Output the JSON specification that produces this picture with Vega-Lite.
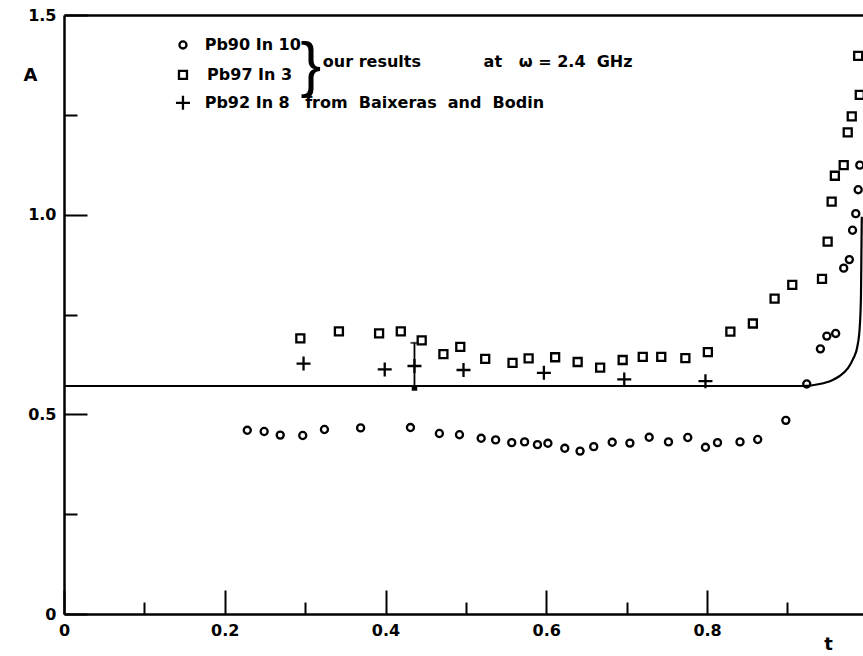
{
  "$schema": "https://vega.github.io/schema/vega-lite/v6.json",
  "width": 799,
  "height": 599,
  "autosize": {"type": "none"},
  "padding": {"left": 64, "top": 15, "right": 0, "bottom": 42},
  "background": "white",
  "config": {"view": {"stroke": null}, "font": "DejaVu Sans"},
  "datasets": {
    "bcs": [
      {"t": 0, "A": 0.571}, {"t": 0.92, "A": 0.571}, {"t": 0.94, "A": 0.576}, {"t": 0.955, "A": 0.585},
      {"t": 0.965, "A": 0.596}, {"t": 0.975, "A": 0.615}, {"t": 0.982, "A": 0.64}, {"t": 0.987, "A": 0.67},
      {"t": 0.99, "A": 0.72}, {"t": 0.9915, "A": 0.8}, {"t": 0.992, "A": 0.9}, {"t": 0.9925, "A": 0.995}
    ],
    "pb90": [
      {"t": 0.228, "A": 0.46}, {"t": 0.249, "A": 0.457}, {"t": 0.269, "A": 0.448}, {"t": 0.297, "A": 0.447},
      {"t": 0.324, "A": 0.462}, {"t": 0.369, "A": 0.466}, {"t": 0.431, "A": 0.467}, {"t": 0.467, "A": 0.452},
      {"t": 0.492, "A": 0.449}, {"t": 0.519, "A": 0.44}, {"t": 0.537, "A": 0.436}, {"t": 0.557, "A": 0.429},
      {"t": 0.573, "A": 0.431}, {"t": 0.589, "A": 0.424}, {"t": 0.602, "A": 0.4275}, {"t": 0.623, "A": 0.415},
      {"t": 0.642, "A": 0.408}, {"t": 0.659, "A": 0.419}, {"t": 0.682, "A": 0.43}, {"t": 0.704, "A": 0.428},
      {"t": 0.728, "A": 0.4425}, {"t": 0.752, "A": 0.431}, {"t": 0.776, "A": 0.442}, {"t": 0.798, "A": 0.4175},
      {"t": 0.813, "A": 0.429}, {"t": 0.841, "A": 0.431}, {"t": 0.863, "A": 0.437}, {"t": 0.898, "A": 0.485},
      {"t": 0.924, "A": 0.576}, {"t": 0.941, "A": 0.664}, {"t": 0.949, "A": 0.696}, {"t": 0.96, "A": 0.7025},
      {"t": 0.97, "A": 0.866}, {"t": 0.977, "A": 0.8875}, {"t": 0.981, "A": 0.961}, {"t": 0.985, "A": 1.0025},
      {"t": 0.988, "A": 1.0625}, {"t": 0.99, "A": 1.124}
    ],
    "pb97": [
      {"t": 0.294, "A": 0.69}, {"t": 0.342, "A": 0.7075}, {"t": 0.392, "A": 0.7025}, {"t": 0.419, "A": 0.7075},
      {"t": 0.445, "A": 0.685}, {"t": 0.472, "A": 0.651}, {"t": 0.493, "A": 0.669}, {"t": 0.524, "A": 0.639},
      {"t": 0.558, "A": 0.629}, {"t": 0.578, "A": 0.64}, {"t": 0.611, "A": 0.643}, {"t": 0.639, "A": 0.631},
      {"t": 0.667, "A": 0.617}, {"t": 0.695, "A": 0.636}, {"t": 0.72, "A": 0.644}, {"t": 0.743, "A": 0.644},
      {"t": 0.773, "A": 0.641}, {"t": 0.801, "A": 0.656}, {"t": 0.829, "A": 0.707}, {"t": 0.857, "A": 0.7275},
      {"t": 0.884, "A": 0.79}, {"t": 0.906, "A": 0.824}, {"t": 0.943, "A": 0.839}, {"t": 0.95, "A": 0.9325},
      {"t": 0.955, "A": 1.0325}, {"t": 0.959, "A": 1.0975}, {"t": 0.97, "A": 1.124}, {"t": 0.975, "A": 1.206},
      {"t": 0.98, "A": 1.246}, {"t": 0.99, "A": 1.3}, {"t": 0.988, "A": 1.3975}
    ],
    "pb92": [
      {"t": 0.298, "A": 0.627}, {"t": 0.399, "A": 0.6125}, {"t": 0.436, "A": 0.621}, {"t": 0.497, "A": 0.611},
      {"t": 0.597, "A": 0.604}, {"t": 0.697, "A": 0.5875}, {"t": 0.798, "A": 0.583}
    ],
    "errbar": [{"t": 0.436, "lo": 0.566, "hi": 0.679}],
    "legsym": [
      {"t": 0.148, "A": 1.425, "series": "Pb90 In 10"},
      {"t": 0.148, "A": 1.35, "series": "Pb97 In 3"},
      {"t": 0.148, "A": 1.28, "series": "Pb92 In 8"}
    ],
    "legtext": [
      {"t": 0.175, "A": 1.425, "label": "Pb90 In 10"},
      {"t": 0.178, "A": 1.35, "label": "Pb97 In 3"},
      {"t": 0.175, "A": 1.28, "label": "Pb92 In 8"},
      {"t": 0.3, "A": 1.28, "label": "from\u00a0\u00a0Baixeras\u00a0\u00a0and\u00a0\u00a0Bodin"},
      {"t": 0.322, "A": 1.383, "label": "our results"},
      {"t": 0.522, "A": 1.383, "label": "at\u00a0\u00a0\u00a0ω\u00a0=\u00a02.4\u00a0\u00a0GHz"}
    ],
    "brace": [{"t": 0.307, "A": 1.372, "label": "}"}]
  },
  "layer": [
    {
      "data": {"name": "bcs"},
      "mark": {"type": "line", "color": "black", "strokeWidth": 2.2, "interpolate": "monotone", "clip": true},
      "encoding": {
        "x": {
          "field": "t", "type": "quantitative",
          "scale": {"domain": [0, 0.994], "nice": false, "zero": false},
          "axis": {
            "values": [0, 0.1, 0.2, 0.3, 0.4, 0.5, 0.6, 0.7, 0.8, 0.9],
            "labelExpr": "round(datum.value*10) % 2 == 0 ? (datum.value == 0 ? '0' : format(datum.value, '.1f')) : ''",
            "tickSize": {"condition": {"test": "round(datum.value*10) % 2 == 0", "value": -24}, "value": -12},
            "tickWidth": 2, "tickColor": "black", "domainColor": "black", "domainWidth": 2.5,
            "labelFont": "DejaVu Sans", "labelFontSize": 16, "labelFontWeight": "bold", "labelColor": "black", "labelPadding": 32,
            "labelFlush": false, "labelOverlap": false, "grid": false,
            "title": "t", "titleX": 764, "titleY": 30, "titleBaseline": "middle", "titleFontSize": 18, "titleFontWeight": "bold",
            "titleColor": "black", "titleFont": "DejaVu Sans"
          }
        },
        "y": {
          "field": "A", "type": "quantitative",
          "scale": {"domain": [0, 1.5], "nice": false, "zero": false},
          "axis": {
            "values": [0, 0.25, 0.5, 0.75, 1, 1.25, 1.5],
            "labelExpr": "datum.value == 0 ? '0' : (datum.value*2 == round(datum.value*2) ? format(datum.value, '.1f') : '')",
            "tickSize": {"condition": {"test": "datum.value*2 == round(datum.value*2)", "value": -23}, "value": -13},
            "tickWidth": 2, "tickColor": "black", "domainColor": "black", "domainWidth": 2.5,
            "labelFont": "DejaVu Sans", "labelFontSize": 16, "labelFontWeight": "bold", "labelColor": "black", "labelPadding": 31,
            "labelFlush": false, "labelOverlap": false, "grid": false,
            "title": "A", "titleAngle": 0, "titleX": -34, "titleY": 60, "titleAlign": "center", "titleBaseline": "middle",
            "titleFontSize": 18, "titleFontWeight": "bold", "titleColor": "black", "titleFont": "DejaVu Sans"
          }
        }
      }
    },
    {
      "data": {"name": "bcs"},
      "mark": {"type": "point", "opacity": 0},
      "encoding": {
        "x": {"field": "t", "type": "quantitative",
          "axis": {"orient": "top", "domain": true, "domainColor": "black", "domainWidth": 2.5, "ticks": false, "labels": false, "grid": false, "title": null}},
        "y": {"field": "A", "type": "quantitative", "axis": null}
      }
    },
    {
      "data": {"name": "pb90"},
      "mark": {"type": "point", "shape": "circle", "filled": false, "color": "black", "strokeWidth": 2.3, "size": 50, "opacity": 1},
      "encoding": {
        "x": {"field": "t", "type": "quantitative", "axis": null},
        "y": {"field": "A", "type": "quantitative", "axis": null}
      }
    },
    {
      "data": {"name": "pb97"},
      "mark": {"type": "point", "shape": "square", "filled": false, "color": "black", "strokeWidth": 2.3, "size": 64, "opacity": 1},
      "encoding": {
        "x": {"field": "t", "type": "quantitative", "axis": null},
        "y": {"field": "A", "type": "quantitative", "axis": null}
      }
    },
    {
      "data": {"name": "pb92"},
      "mark": {"type": "point", "shape": "M-1,0H1M0,-1V1", "filled": false, "color": "black", "strokeWidth": 2.3, "size": 196, "opacity": 1},
      "encoding": {
        "x": {"field": "t", "type": "quantitative", "axis": null},
        "y": {"field": "A", "type": "quantitative", "axis": null}
      }
    },
    {
      "data": {"name": "errbar"},
      "mark": {"type": "rule", "color": "black", "strokeWidth": 1.8},
      "encoding": {
        "x": {"field": "t", "type": "quantitative", "axis": null},
        "y": {"field": "lo", "type": "quantitative", "axis": null},
        "y2": {"field": "hi"}
      }
    },
    {
      "data": {"name": "errbar"},
      "mark": {"type": "tick", "orient": "horizontal", "color": "black", "thickness": 2, "size": 8},
      "encoding": {
        "x": {"field": "t", "type": "quantitative", "axis": null},
        "y": {"field": "hi", "type": "quantitative", "axis": null}
      }
    },
    {
      "data": {"name": "errbar"},
      "mark": {"type": "point", "shape": "square", "filled": true, "color": "black", "size": 30, "opacity": 1},
      "encoding": {
        "x": {"field": "t", "type": "quantitative", "axis": null},
        "y": {"field": "lo", "type": "quantitative", "axis": null}
      }
    },
    {
      "data": {"name": "legsym"},
      "transform": [{"filter": "datum.series == 'Pb90 In 10'"}],
      "mark": {"type": "point", "shape": "circle", "filled": false, "color": "black", "strokeWidth": 2.3, "size": 50, "opacity": 1},
      "encoding": {
        "x": {"field": "t", "type": "quantitative", "axis": null},
        "y": {"field": "A", "type": "quantitative", "axis": null}
      }
    },
    {
      "data": {"name": "legsym"},
      "transform": [{"filter": "datum.series == 'Pb97 In 3'"}],
      "mark": {"type": "point", "shape": "square", "filled": false, "color": "black", "strokeWidth": 2.3, "size": 64, "opacity": 1},
      "encoding": {
        "x": {"field": "t", "type": "quantitative", "axis": null},
        "y": {"field": "A", "type": "quantitative", "axis": null}
      }
    },
    {
      "data": {"name": "legsym"},
      "transform": [{"filter": "datum.series == 'Pb92 In 8'"}],
      "mark": {"type": "point", "shape": "M-1,0H1M0,-1V1", "filled": false, "color": "black", "strokeWidth": 2.3, "size": 196, "opacity": 1},
      "encoding": {
        "x": {"field": "t", "type": "quantitative", "axis": null},
        "y": {"field": "A", "type": "quantitative", "axis": null}
      }
    },
    {
      "data": {"name": "legtext"},
      "mark": {"type": "text", "align": "left", "baseline": "middle", "font": "DejaVu Sans", "fontSize": 16, "fontWeight": "bold", "color": "black"},
      "encoding": {
        "x": {"field": "t", "type": "quantitative", "axis": null},
        "y": {"field": "A", "type": "quantitative", "axis": null},
        "text": {"field": "label"}
      }
    },
    {
      "data": {"name": "brace"},
      "mark": {"type": "text", "align": "center", "baseline": "middle", "font": "Liberation Sans", "fontSize": 62, "fontWeight": "normal", "color": "black"},
      "encoding": {
        "x": {"field": "t", "type": "quantitative", "axis": null},
        "y": {"field": "A", "type": "quantitative", "axis": null},
        "text": {"field": "label"}
      }
    }
  ],
  "resolve": {"axis": {"x": "independent", "y": "independent"}}
}
